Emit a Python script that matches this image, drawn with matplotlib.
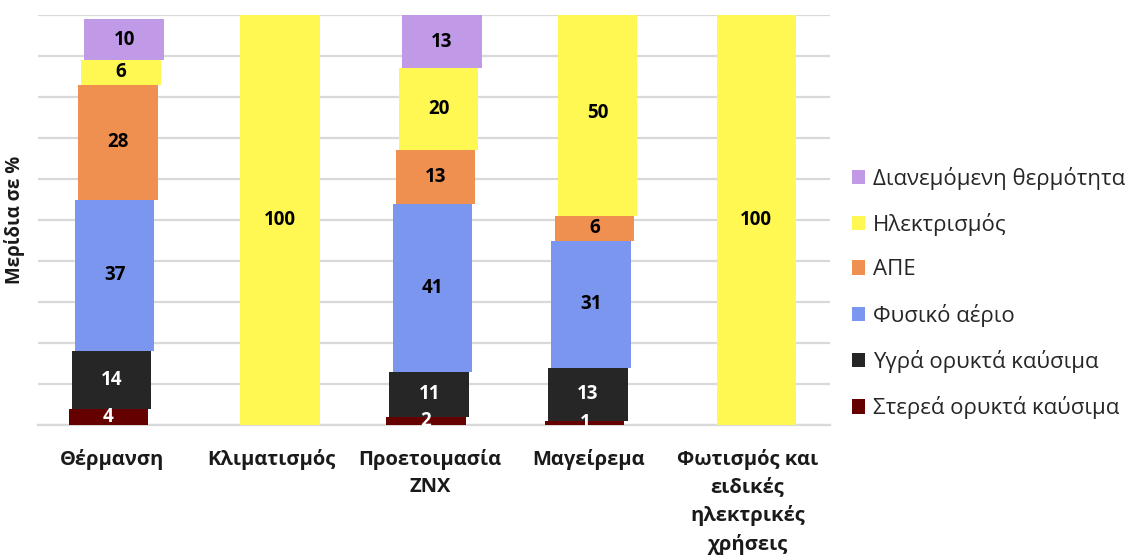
import numpy as np
import matplotlib.pyplot as plt

plt.rcParams['font.family'] = ['Open Sans', 'DejaVu Sans']

categories = ['Θέρμανση', 'Κλιματισμός', 'Προετοιμασία\nΖΝΧ', 'Μαγείρεμα',
              'Φωτισμός και\nειδικές\nηλεκτρικές\nχρήσεις']

series_names = ['Στερεά ορυκτά καύσιμα', 'Υγρά ορυκτά καύσιμα', 'Φυσικό αέριο',
                'ΑΠΕ', 'Ηλεκτρισμός', 'Διανεμόμενη θερμότητα']
solid = [4, 0, 2, 1, 0]
liquid = [14, 0, 11, 13, 0]
gas = [37, 0, 41, 31, 0]
res = [28, 0, 13, 6, 0]
electricity = [6, 100, 20, 50, 100]
district = [10, 0, 13, 0, 0]
series = [solid, liquid, gas, res, electricity, district]

colors = ['#640000', '#262626', '#7A96EE', '#F09050', '#FFF752', '#C09AE6']
label_colors = ['white', 'white', 'black', 'black', 'black', 'black']

fig = plt.figure(figsize=(11.4, 5.55), dpi=100)
ax = fig.add_axes([0.0333, 0.2342, 0.6947, 0.7388])

x = np.arange(len(categories))
bottom = np.zeros(len(categories))
handles = []
for i, (vals, name) in enumerate(zip(series, series_names)):
    vals = np.array(vals, dtype=float)
    # each series is drawn slightly shifted, like the original chart
    off = -0.025 + i * 0.02
    b = ax.bar(x + off, vals, 0.5, bottom=bottom, color=colors[i], label=name, zorder=3)
    handles.append(b)
    for xi, v, b0 in zip(x + off, vals, bottom):
        if v > 0:
            ax.text(xi, b0 + v / 2, f'{int(v)}', ha='center', va='center',
                    fontsize=13.5, fontweight='bold', color=label_colors[i], zorder=4)
    bottom += vals

ax.set_xlim(-0.468, 4.519)
ax.set_ylim(0, 100)
ax.set_yticks(np.arange(0, 101, 10))
ax.set_yticklabels([])
ax.yaxis.grid(True, color='#D9D9D9', linewidth=1.6, zorder=0)
ax.tick_params(axis='both', length=0)
for s in ['top', 'right', 'left']:
    ax.spines[s].set_visible(False)
ax.spines['bottom'].set_color('#D9D9D9')
ax.spines['bottom'].set_linewidth(1.6)

ax.set_xticks(x)
ax.set_xticklabels(categories, fontsize=14.5, fontweight='bold', color='#1a1a1a',
                   linespacing=1.5, va='top')
ax.tick_params(axis='x', pad=17)
ax.set_ylabel('Μερίδια σε %', fontsize=13.5, fontweight='bold', color='#1a1a1a', labelpad=6)

leg = ax.legend(handles[::-1], series_names[::-1], loc='center left',
                bbox_to_anchor=(1.002, 0.322), frameon=False, fontsize=16,
                handlelength=0.6, handleheight=0.6, handletextpad=0.35,
                labelspacing=1.05, labelcolor='#262626')

fig.savefig('out.png', dpi=100)
